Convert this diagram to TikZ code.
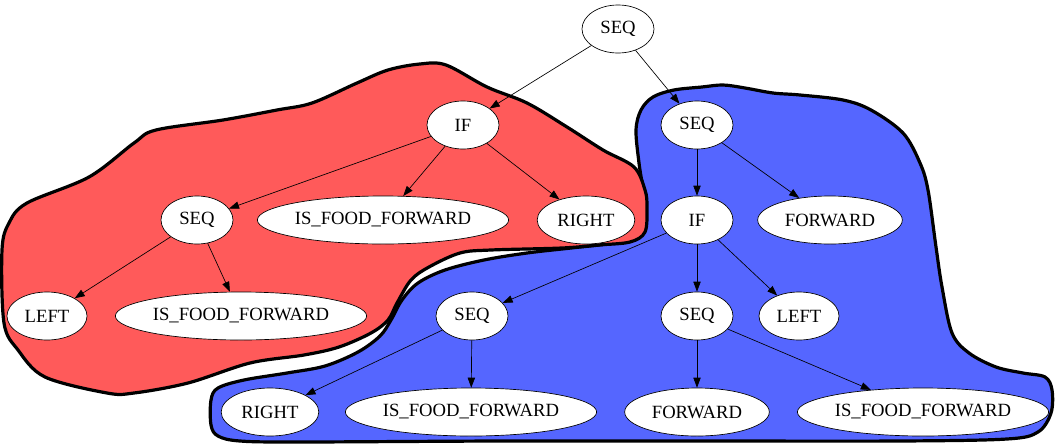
\documentclass[tikz,border=0pt]{standalone}
\usepackage{fontspec}
\setmainfont{Liberation Serif}
\usepackage{tikz}
\usetikzlibrary{arrows.meta, shapes.geometric}
\definecolor{myred}{RGB}{255,90,90}
\definecolor{myblue}{RGB}{85,102,255}
\begin{document}
\begin{tikzpicture}[x=0.75pt, y=-0.75pt,
  tnode/.style={ellipse, draw, fill=white, line width=0.5pt, inner xsep=4.5pt, inner ysep=0pt,
    minimum width=54pt, minimum height=36pt, font=\fontsize{14}{16}\selectfont},
  longnode/.style={tnode, inner xsep=0.5pt},
  arr/.style={-{Triangle[length=7.5pt, width=5.5pt]}, line width=0.5pt},
  blob/.style={draw=black, line width=2.4pt, line join=round}]
        \useasboundingbox (0,0) rectangle (1055,443);
        % blue group
        \filldraw[blob, fill=myblue] plot[smooth cycle, tension=0.55] coordinates {
          (653,97) (674,90) (702,87) (723,85) (745,88) (773,93) (800,95) (843,100) (871,110)
          (903,133) (920,163) (928,190) (936,247) (942,287) (952,333) (969,353) (996,367)
          (1023,373) (1045,377) (1052,390) (1051,413) (1038,432) (1007,439) (900,441) (700,441)
          (500,441) (300,442) (240,441) (218,436) (211,425) (211,400) (218,388) (244,380)
          (287,373) (325,366) (358,352) (380,336) (391,320) (402,300) (418,283) (445,270)
          (484,260) (527,253) (571,248) (614,243) (636,236) (644,220) (644,197) (639,163)
          (636,130) (641,110)};
        % red group
        \filldraw[blob, fill=myred] plot[smooth cycle, tension=0.55] coordinates {
          (420,64) (446,65) (487,87) (527,103) (567,127) (603,150) (634,167) (645,190)
          (647,207) (645,232) (630,242) (598,245) (562,248) (491,250) (460,253) (429,267)
          (411,280) (397,303) (388,320) (371,333) (339,347) (304,355) (250,363) (188,383)
          (134,393) (107,393) (45,377) (18,350) (4,323) (2,250) (9,223) (27,203) (89,177)
          (134,143) (156,130) (223,120) (277,110) (312,103) (357,83) (388,70)};
        % tree
        \node[tnode] (root) at (618,29) {SEQ};
        \node[tnode] (ifl) at (463,125) {IF};
        \node[tnode] (seqr) at (697,125) {SEQ};
        \node[tnode] (seql) at (197,220) {SEQ};
        \node[longnode] (foodl) at (383,220) {IS\_FOOD\_FORWARD};
        \node[tnode] (rightl) at (586,220) {RIGHT};
        \node[tnode] (ifr) at (697,220) {IF};
        \node[tnode] (fwdr) at (830,220) {FORWARD};
        \node[tnode] (leftl) at (47,316) {LEFT};
        \node[longnode] (foodll) at (241,316) {IS\_FOOD\_FORWARD};
        \node[tnode] (seqa) at (472,316) {SEQ};
        \node[tnode] (seqb) at (697,316) {SEQ};
        \node[tnode] (leftr) at (799,316) {LEFT};
        \node[tnode] (righta) at (270,412) {RIGHT};
        \node[longnode] (fooda) at (471,412) {IS\_FOOD\_FORWARD};
        \node[tnode] (fwdb) at (697,412) {FORWARD};
        \node[longnode] (foodb) at (923,412) {IS\_FOOD\_FORWARD};

        \draw[arr] (root) -- (ifl);
        \draw[arr] (root) -- (seqr);
        \draw[arr] (ifl) -- (seql);
        \draw[arr] (ifl) -- (foodl);
        \draw[arr] (ifl) -- (rightl);
        \draw[arr] (seql) -- (leftl);
        \draw[arr] (seql) -- (foodll);
        \draw[arr] (seqr) -- (ifr);
        \draw[arr] (seqr) -- (fwdr);
        \draw[arr] (ifr) -- (seqa);
        \draw[arr] (ifr) -- (seqb);
        \draw[arr] (ifr) -- (leftr);
        \draw[arr] (seqa) -- (righta);
        \draw[arr] (seqa) -- (fooda);
        \draw[arr] (seqb) -- (fwdb);
        \draw[arr] (seqb) -- (foodb);
\end{tikzpicture}
\end{document}
